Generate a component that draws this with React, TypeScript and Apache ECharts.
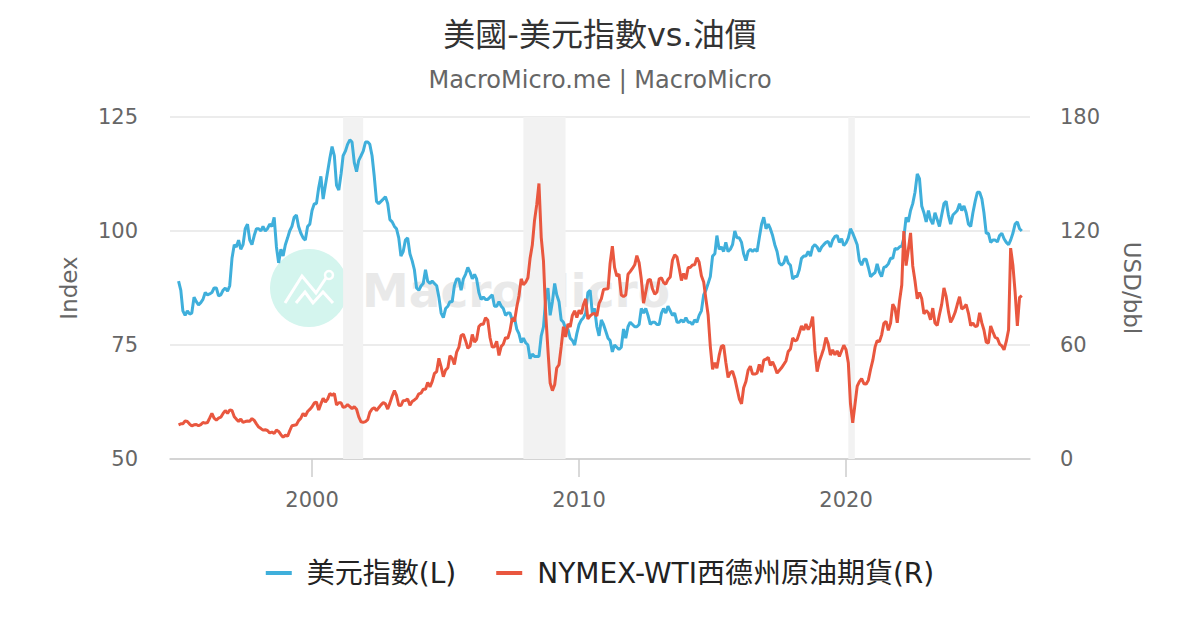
import React, { useEffect, useRef } from "react";
import * as echarts from "echarts";

// Monthly series starting January 1995
const START_YEAR = 1995;

const dxyValues: number[] = [
  // 1995
  89.0, 87.0, 82.5, 81.5, 82.5, 81.8, 82.0, 85.5, 84.5, 83.8, 84.3, 85.0,
  // 1996
  86.5, 86.0, 86.2, 86.5, 87.5, 87.5, 85.8, 86.0, 87.0, 87.5, 86.8, 88.0,
  // 1997
  94.0, 97.0, 96.5, 98.0, 96.0, 97.0, 100.5, 101.5, 98.0, 97.0, 99.0, 100.5,
  // 1998
  100.5, 100.0, 101.0, 100.0, 100.5, 101.5, 101.0, 103.0, 96.5, 93.0, 96.0, 94.5,
  // 1999
  97.0, 98.5, 100.0, 101.0, 103.0, 103.5, 101.0, 99.5, 98.5, 98.0, 101.0, 101.5,
  // 2000
  104.5, 106.0, 106.0, 109.5, 112.0, 107.0, 110.0, 113.0, 116.0, 118.5, 116.5, 110.0,
  // 2001
  109.0, 112.5, 116.5, 117.5, 119.0, 120.0, 119.5, 115.0, 113.0, 115.5, 116.5, 117.5,
  // 2002
  119.5, 119.5, 119.0, 116.5, 112.0, 106.5, 106.0, 106.5, 107.0, 107.5, 106.0, 102.5,
  // 2003
  102.0, 101.0, 100.5, 98.5, 94.5, 95.5, 98.0, 98.5, 95.0, 93.5, 91.5, 87.5,
  // 2004
  87.0, 88.0, 88.5, 91.5, 89.0, 88.5, 89.0, 88.5, 88.0, 85.5, 82.0, 81.0,
  // 2005
  83.0, 83.5, 84.5, 84.5, 88.0, 89.5, 89.5, 87.0, 89.5, 90.5, 92.0, 91.0,
  // 2006
  89.5, 90.5, 89.5, 86.5, 85.0, 85.5, 85.0, 85.0, 85.5, 86.0, 83.5, 83.5,
  // 2007
  84.5, 83.5, 83.0, 81.5, 82.0, 82.0, 80.5, 81.0, 78.5, 77.5, 75.5, 76.5,
  // 2008
  75.5, 75.0, 72.0, 73.0, 72.5, 72.5, 72.5, 77.0, 79.0, 85.0, 87.5, 81.5,
  // 2009
  84.5, 88.5, 86.0, 84.5, 80.5, 80.0, 78.5, 78.5, 76.5, 76.0, 75.0, 77.5,
  // 2010
  79.5, 80.5, 81.0, 82.0, 86.5, 87.0, 82.0, 83.0, 79.0, 77.0, 80.5, 79.5,
  // 2011
  78.0, 76.5, 76.0, 73.5, 75.0, 74.5, 74.0, 74.5, 78.5, 76.5, 79.0, 80.0,
  // 2012
  79.5, 79.0, 79.0, 79.5, 83.0, 82.0, 83.0, 81.5, 79.5, 80.0, 80.0, 79.5,
  // 2013
  79.5, 82.0, 83.0, 82.0, 83.5, 82.5, 81.5, 82.0, 80.0, 80.0, 80.5, 80.0,
  // 2014
  81.0, 80.0, 80.0, 79.5, 80.5, 80.0, 81.5, 82.5, 86.0, 87.0, 88.5, 90.0,
  // 2015
  94.5, 95.0, 99.0, 96.0, 96.5, 95.5, 97.5, 95.5, 96.0, 97.0, 100.0, 98.5,
  // 2016
  98.5, 97.5, 95.0, 93.5, 95.5, 96.0, 95.5, 96.0, 95.5, 98.5, 101.5, 103.0,
  // 2017
  100.5, 101.5, 100.5, 99.0, 97.0, 95.5, 93.0, 92.5, 93.0, 94.5, 93.0, 92.5,
  // 2018
  89.5, 90.0, 90.0, 91.5, 94.0, 94.5, 94.5, 95.5, 94.5, 96.5, 97.0, 96.5,
  // 2019
  95.5, 96.5, 97.0, 97.5, 97.7, 96.5, 98.0, 98.8, 99.0, 97.5, 98.3, 96.8,
  // 2020
  97.4, 98.5, 100.5, 99.5, 98.3, 97.0, 93.5, 92.5, 93.8, 93.8, 92.0, 90.0,
  // 2021
  90.5, 90.9, 92.8, 91.0, 90.0, 92.0, 92.2, 92.8, 94.0, 94.0, 96.2, 96.0,
  // 2022
  96.5, 96.7, 98.5, 103.0, 102.0, 104.5, 106.0, 108.5, 112.5, 111.5, 105.5, 104.0,
  // 2023
  102.0, 104.5, 102.5, 101.5, 104.0, 102.5, 101.0, 103.5, 106.0, 106.5, 103.5, 101.5,
  // 2024
  103.5, 104.0, 104.5, 106.0, 104.5, 105.5, 104.0, 101.5, 101.0, 104.0, 106.5, 108.5,
  // 2025
  108.5, 107.0, 104.0, 99.5, 99.5, 97.5, 98.0, 98.0, 97.6, 99.0, 99.5, 98.3,
  // 2026
  97.5, 97.0, 98.0, 99.5, 101.5, 102.0, 100.5, 100.0,
];

const oilValues: number[] = [
  // 1995
  18.0, 18.5, 18.6, 20.0, 19.7, 18.4, 17.4, 18.0, 18.2, 17.5, 18.1, 19.2,
  // 1996
  18.9, 19.2, 21.5, 24.0, 21.5, 20.5, 21.5, 22.0, 24.0, 25.5, 24.0, 25.8,
  // 1997
  25.5, 22.2, 21.0, 19.8, 21.0, 19.3, 19.7, 20.0, 19.9, 21.3, 20.3, 18.5,
  // 1998
  16.8, 16.0, 15.2, 15.4, 15.0, 13.7, 14.2, 13.4, 15.2, 14.5, 12.8, 11.5,
  // 1999
  12.5, 12.0, 14.8, 17.5, 17.8, 18.0, 20.2, 21.5, 24.0, 22.6, 25.0, 26.1,
  // 2000
  27.5, 29.5, 30.0, 25.8, 29.0, 32.0, 30.0, 31.5, 34.5, 33.5, 34.5, 28.5,
  // 2001
  29.6, 29.6, 27.2, 27.5, 28.6, 27.6, 26.5, 27.5, 26.2, 22.2, 19.6, 19.3,
  // 2002
  19.7, 20.7, 24.5, 26.3, 27.0, 25.5, 27.0, 28.5, 29.7, 29.0, 26.3, 29.4,
  // 2003
  33.0, 36.0, 33.5, 28.3, 28.1, 30.7, 30.8, 31.6, 28.3, 30.3, 31.1, 32.1,
  // 2004
  34.3, 34.7, 36.7, 36.7, 40.3, 38.0, 40.7, 45.0, 46.0, 53.0, 48.5, 43.3,
  // 2005
  46.8, 48.0, 54.3, 53.0, 49.8, 56.3, 58.7, 65.0, 65.6, 62.3, 58.3, 59.4,
  // 2006
  65.5, 61.6, 62.9, 69.7, 70.9, 70.9, 74.4, 73.0, 63.8, 58.9, 59.1, 62.0,
  // 2007
  54.5, 59.3, 60.4, 63.9, 63.5, 67.5, 74.1, 72.4, 79.9, 85.8, 94.8, 91.7,
  // 2008
  93.0, 95.4, 105.5, 112.6, 125.4, 134.0, 145.0, 116.7, 104.1, 76.6, 57.3, 40.0,
  // 2009
  36.0, 39.1, 47.9, 49.6, 59.0, 69.6, 64.2, 71.1, 69.5, 75.6, 78.0, 74.5,
  // 2010
  78.3, 76.4, 81.2, 84.3, 73.7, 75.3, 76.3, 76.6, 75.2, 81.9, 84.3, 89.2,
  // 2011
  89.5, 89.6, 102.9, 112.0, 100.9, 96.3, 97.3, 86.3, 85.5, 86.3, 97.2, 98.6,
  // 2012
  100.3, 102.2, 107.0, 103.3, 94.7, 82.0, 87.9, 94.1, 94.5, 89.5, 86.7, 87.9,
  // 2013
  94.8, 95.3, 92.9, 92.0, 94.5, 95.8, 104.6, 107.5, 106.3, 100.5, 93.9, 97.6,
  // 2014
  94.6, 100.8, 100.8, 102.1, 102.2, 106.0, 103.6, 96.5, 93.2, 84.4, 75.8, 59.3,
  // 2015
  47.2, 50.6, 47.8, 54.5, 59.3, 59.8, 50.9, 42.9, 45.5, 46.2, 42.4, 37.2,
  // 2016
  31.7, 29.0, 37.5, 40.8, 46.7, 48.8, 44.7, 44.7, 45.2, 49.8, 45.7, 52.0,
  // 2017
  52.5, 53.5, 49.3, 51.1, 48.5, 45.2, 46.6, 48.0, 49.8, 51.6, 56.6, 57.9,
  // 2018
  63.7, 62.2, 62.7, 66.3, 70.0, 67.9, 71.0, 68.1, 70.2, 75.0, 57.0, 46.0,
  // 2019
  51.4, 54.9, 58.2, 63.9, 60.8, 54.7, 57.4, 54.8, 56.9, 54.0, 57.0, 59.9,
  // 2020
  57.5, 50.5, 29.2, 19.0, 28.5, 38.3, 40.7, 42.3, 39.6, 39.4, 41.5, 47.1,
  // 2021
  52.0, 59.0, 62.3, 61.7, 65.2, 71.4, 72.5, 67.7, 71.6, 81.5, 79.2, 71.7,
  // 2022
  83.2, 91.6, 120.0, 101.8, 110.0, 119.0, 101.6, 93.7, 84.3, 87.6, 84.4, 76.4,
  // 2023
  78.1, 76.8, 73.3, 79.4, 71.6, 70.3, 76.0, 81.4, 90.0, 85.6, 77.7, 71.9,
  // 2024
  74.2, 77.2, 81.3, 85.4, 79.0, 79.8, 81.3, 76.7, 70.2, 71.6, 69.7, 70.1,
  // 2025
  77.0, 71.5, 67.9, 61.5, 61.0, 70.0, 67.0, 64.0, 63.5, 60.5, 59.5, 57.5,
  // 2026
  62.0, 68.0, 111.0, 102.0, 88.0, 70.0, 85.0, 86.0,
];

const recessions: [string, string][] = [
  ["2001-03-01", "2001-11-30"],
  ["2007-12-01", "2009-06-30"],
  ["2020-02-01", "2020-04-30"],
];

const xTickYears = [2000, 2010, 2020];
const leftAxis = { min: 50, max: 125, interval: 25 };
const rightAxis = { min: 0, max: 180, interval: 60 };

const SERIES_DXY = "美元指數(L)";
const SERIES_OIL = "NYMEX-WTI西德州原油期貨(R)";
const TITLE = "美國-美元指數vs.油價";
const SUBTITLE = "MacroMicro.me | MacroMicro";

const FONT = "'DejaVu Sans', 'Noto Sans CJK TC', sans-serif";
const BLUE = "#3fafdb";
const RED = "#e9573f";

function monthTime(i: number): number {
  const y = START_YEAR + Math.floor(i / 12);
  const m = i % 12;
  return new Date(y, m, 1).getTime();
}

function parseDate(s: string): number {
  const [y, m, d] = s.split("-").map(Number);
  return new Date(y, m - 1, d).getTime();
}

export default function App() {
  const ref = useRef<HTMLDivElement>(null);

  useEffect(() => {
    if (!ref.current) return;
    const chart = echarts.init(ref.current, undefined, { renderer: "svg" });

    const dxyData = dxyValues.map((v, i) => [monthTime(i), v]);
    const oilData = oilValues.map((v, i) => [monthTime(i), v]);
    const tickTimes = xTickYears.map((y) => new Date(y, 0, 1).getTime());

    const option: any = {
      animation: false,
      backgroundColor: "#ffffff",
      textStyle: { fontFamily: FONT },
      title: [
        {
          text: TITLE,
          left: "center",
          top: 14,
          textStyle: { fontFamily: FONT, fontSize: 32, fontWeight: "normal", color: "#333333" },
        },
        {
          text: SUBTITLE,
          left: "center",
          top: 63,
          textStyle: { fontFamily: FONT, fontSize: 24, fontWeight: "normal", color: "#666666" },
        },
      ],
      legend: {
        data: [SERIES_DXY, SERIES_OIL],
        left: "center",
        top: 554,
        itemWidth: 26,
        itemHeight: 4,
        itemGap: 40,
        icon: "rect",
        textStyle: { fontFamily: FONT, fontSize: 28, color: "#222222", padding: [0, 0, 0, 10] },
      },
      grid: { left: 170, right: 170, top: 117, bottom: 171, containLabel: false },
      graphic: [
        {
          type: "group",
          silent: true,
          children: [
            { type: "circle", shape: { cx: 309, cy: 288, r: 39 }, style: { fill: "#d4f5ee" }, z: 0 },
            {
              type: "polyline",
              shape: { points: [[285, 303], [302, 276], [316, 293], [326, 278]] },
              style: { stroke: "#ffffff", lineWidth: 3, fill: null },
              z: 0,
            },
            {
              type: "polyline",
              shape: { points: [[296, 303], [305, 292], [313, 303], [323, 292], [333, 303]] },
              style: { stroke: "#ffffff", lineWidth: 3, fill: null },
              z: 0,
            },
            { type: "circle", shape: { cx: 329, cy: 275, r: 4 }, style: { fill: "none", stroke: "#ffffff", lineWidth: 2.5 }, z: 0 },
            {
              type: "text",
              x: 362,
              y: 290,
              style: {
                text: "MacroMicro",
                fontFamily: FONT,
                fontSize: 47,
                fontWeight: "bold",
                fill: "#e9e9e9",
                verticalAlign: "middle",
              },
              z: 0,
            },
          ],
        },
      ],
      xAxis: {
        type: "value",
        min: new Date(1994, 8, 6).getTime(),
        max: new Date(2026, 10, 21).getTime(),
        axisLine: { show: true, lineStyle: { color: "#cccccc", width: 1.5 } },
        axisTick: {
          show: true,
          length: 18,
          lineStyle: { color: "#cccccc", width: 1.5 },
          customValues: tickTimes,
        },
        axisLabel: {
          margin: 30,
          fontSize: 21,
          color: "#666666",
          fontFamily: FONT,
          customValues: tickTimes,
          formatter: (v: number) => String(new Date(v).getFullYear()),
        },
        splitLine: { show: false },
      },
      yAxis: [
        {
          type: "value",
          min: leftAxis.min,
          max: leftAxis.max,
          interval: leftAxis.interval,
          name: "Index",
          nameLocation: "middle",
          nameGap: 90,
          nameTextStyle: { fontFamily: FONT, fontSize: 23, color: "#666666" },
          axisLine: { show: false },
          axisTick: { show: false },
          axisLabel: { margin: 32, fontSize: 21, color: "#666666", fontFamily: FONT },
          splitLine: { show: true, lineStyle: { color: "#e6e6e6", width: 1.5 } },
        },
        {
          type: "value",
          min: rightAxis.min,
          max: rightAxis.max,
          interval: rightAxis.interval,
          position: "right",
          name: "USD/bbl",
          nameLocation: "middle",
          nameGap: 90,
          nameRotate: -90,
          nameTextStyle: { fontFamily: FONT, fontSize: 23, color: "#666666" },
          axisLine: { show: false },
          axisTick: { show: false },
          axisLabel: { margin: 30, fontSize: 21, color: "#666666", fontFamily: FONT },
          splitLine: { show: false },
        },
      ],
      series: [
        {
          name: "recessions",
          type: "line",
          data: [],
          z: 1,
          silent: true,
          markArea: {
            silent: true,
            itemStyle: { color: "#f2f2f2" },
            data: recessions.map(([a, b]) => [{ xAxis: parseDate(a) }, { xAxis: parseDate(b) }]),
          },
        },
        {
          name: SERIES_DXY,
          type: "line",
          yAxisIndex: 0,
          data: dxyData,
          showSymbol: false,
          symbol: "none",
          z: 3,
          lineStyle: { color: BLUE, width: 3 },
          itemStyle: { color: BLUE },
        },
        {
          name: SERIES_OIL,
          type: "line",
          yAxisIndex: 1,
          data: oilData,
          showSymbol: false,
          symbol: "none",
          z: 4,
          lineStyle: { color: RED, width: 3 },
          itemStyle: { color: RED },
        },
      ],
    };

    chart.setOption(option);
    return () => chart.dispose();
  }, []);

  return (
    <div
      ref={ref}
      style={{ position: "fixed", left: 0, top: 0, width: 1200, height: 630 }}
    />
  );
}
